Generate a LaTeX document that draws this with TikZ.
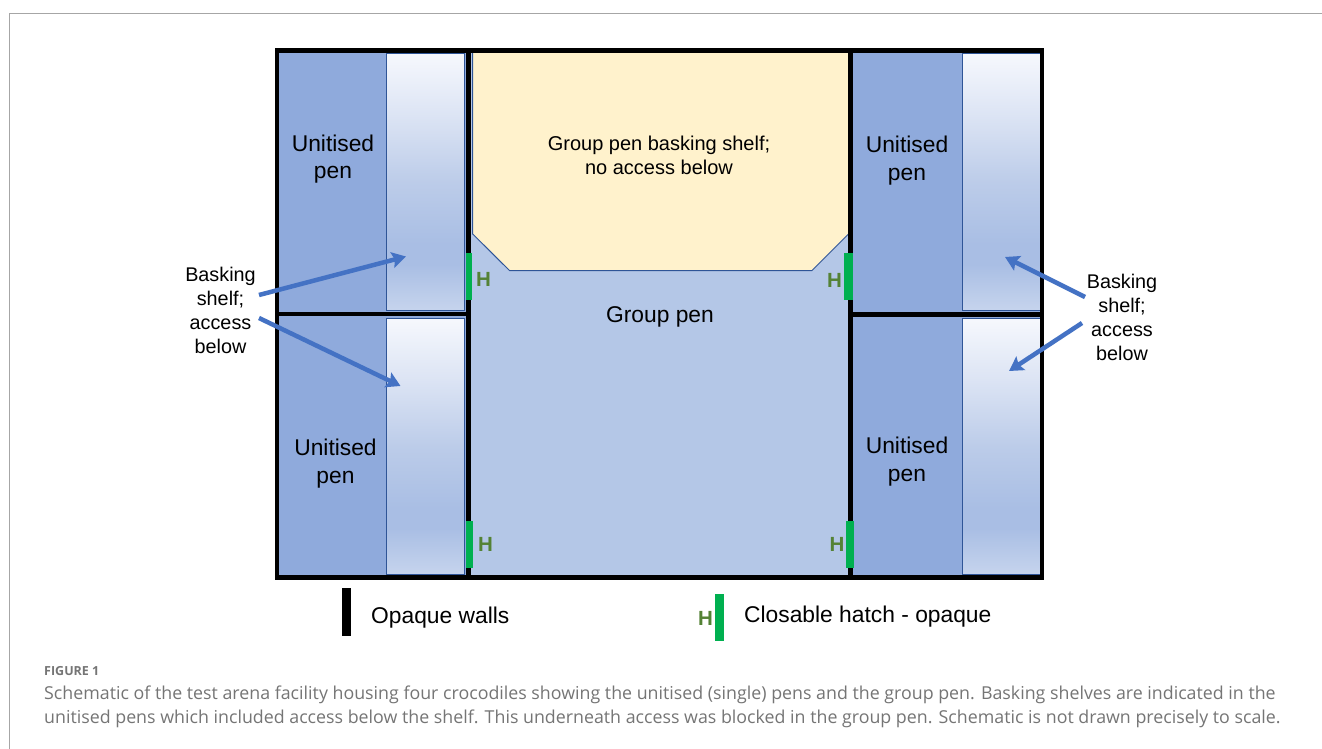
\documentclass[tikz,border=0pt]{standalone}
\usepackage{fontspec}
\setmainfont{Liberation Sans}
\newfontfamily\capfont{Open Sans}
\definecolor{penblue}{HTML}{8FAADC}
\definecolor{groupblue}{HTML}{B4C7E7}
\definecolor{shelfyellow}{HTML}{FFF2CC}
\definecolor{edgeblue}{HTML}{2F5597}
\definecolor{arrowblue}{HTML}{4472C4}
\definecolor{hatchgreen}{HTML}{00B050}
\definecolor{hgreen}{HTML}{548235}
\definecolor{capgrey}{HTML}{757575}
\definecolor{rulegrey}{HTML}{A6A6A6}
\definecolor{shA}{HTML}{F6F8FD}
\definecolor{shB}{HTML}{DCE4F4}
\definecolor{shC}{HTML}{BCCCE9}
\definecolor{shD}{HTML}{A9BEE4}
\definecolor{shE}{HTML}{C6D4ED}
\pgfdeclareverticalshading{shelfshade}{100bp}{
 color(0bp)=(shE); color(25bp)=(shE); color(34bp)=(shD); color(38bp)=(shD);
 color(50bp)=(shC); color(63bp)=(shB); color(75bp)=(shA); color(100bp)=(shA)}
\usetikzlibrary{arrows.meta}
\tikzset{
 px/.style={x=1pt,y=-1pt},
 penlabel/.style={font=\fontsize{22.8}{27.5}\selectfont,align=center,text=black,inner sep=0pt},
 annot/.style={font=\fontsize{20}{24}\selectfont,align=center,text=black,inner sep=0pt},
 hatchlabel/.style={font=\fontsize{20.5}{24}\selectfont\bfseries,text=hgreen,inner sep=0pt},
 shelfbox/.style={draw=edgeblue,line width=1pt,shading=shelfshade},
 penbox/.style={fill=penblue},
 wall/.style={fill=black},
 hatchbar/.style={fill=hatchgreen},
 pointer/.style={draw=arrowblue,line width=4.5pt,-{Stealth[length=14pt,width=16pt,inset=2.5pt]}},
 captext/.style={font=\capfont\fontsize{17.8}{24}\selectfont,text=capgrey,anchor=north west,inner sep=0pt,align=left},
}
\begin{document}
\begin{tikzpicture}[px]
\useasboundingbox (0,0) rectangle (1322,749);
\fill[white] (0,0) rectangle (1322,749);
% page frame
\draw[rulegrey,line width=1pt] (1322,13.5) -- (9.5,13.5) -- (9.5,749);
% floors
\fill[groupblue] (471,52) rectangle (849,576);
\fill[penbox] (278,52) rectangle (467,312);
\fill[penbox] (278,316) rectangle (467,576);
\fill[penbox] (852,52) rectangle (1042,312);
\fill[penbox] (852,316) rectangle (1042,576);
% shelves
\shade[shelfbox] (386.7,54) rectangle (464.7,310.5);
\shade[shelfbox] (386.7,318) rectangle (464.7,574.5);
\shade[shelfbox] (962.3,54) rectangle (1041,310.5);
\shade[shelfbox] (962.3,318) rectangle (1041,574.5);
% group shelf
\draw[edgeblue,line width=1pt,fill=shelfyellow] (472.7,51) -- (848.5,51) -- (848.5,234) -- (812,270.5) -- (509.5,270.5) -- (472.7,234) -- cycle;
% walls
\fill[wall] (466,50) rectangle (471.2,578);
\fill[wall] (848.4,50) rectangle (853.4,578);
\fill[wall] (277,311.8) rectangle (468,316.2);
\fill[wall] (851,312.3) rectangle (1042,316.7);
\draw[black,line width=4.4pt] (277,50.5) rectangle (1041.8,577.3);
% hatches
\fill[hatchbar] (465.5,252.7) rectangle (472.3,300);
\fill[hatchbar] (465.5,520.7) rectangle (473,568);
\fill[hatchbar] (844,252.7) rectangle (852.7,300);
\fill[hatchbar] (845.7,520.7) rectangle (854,568);
% legend
\fill[wall] (342,588) rectangle (351,636);
\fill[hatchbar] (715,594) rectangle (724,641);
% labels
\node[penlabel] (u1) at (333,159) {Unitised\\pen};
\node[penlabel] (u2) at (335.5,463.5) {Unitised\\pen};
\node[penlabel] (u3) at (907,160.5) {Unitised\\pen};
\node[penlabel] (u4) at (907,461.5) {Unitised\\pen};
\node[annot] (shelftext) at (659,155.5) {Group pen basking shelf;\\no access below};
\node[penlabel] (grouptext) at (660,316.5) {Group pen};
\node[annot,font=\fontsize{19.8}{24}\selectfont] (leftnote) at (220.5,310.5) {Basking\\shelf;\\access\\below};
\node[annot,font=\fontsize{19.8}{24}\selectfont] (rightnote) at (1122,317.5) {Basking\\shelf;\\access\\below};
\node[hatchlabel] (h1) at (483.5,279.5) {H};
\node[hatchlabel] (h2) at (485.5,544.5) {H};
\node[hatchlabel] (h3) at (834.5,280) {H};
\node[hatchlabel] (h4) at (837,544.5) {H};
\node[hatchlabel] (h5) at (705.5,618.5) {H};
\node[penlabel,anchor=west] (legA) at (371,618) {Opaque walls};
\node[penlabel,anchor=west] (legB) at (744,616.5) {Closable hatch - opaque};
% pointers
\coordinate (la) at (259,295);
\coordinate (lb) at (259,318);
\coordinate (ra) at (1085,297);
\coordinate (rb) at (1082,323);
\coordinate (ta) at (406,256.5);
\coordinate (tb) at (400.5,386);
\coordinate (tc) at (1005,257);
\coordinate (td) at (1009,371);
\draw[pointer] (la) -- (ta);
\draw[pointer] (lb) -- (tb);
\draw[pointer] (ra) -- (tc);
\draw[pointer] (rb) -- (td);
% caption
\node[font=\capfont\bfseries\fontsize{12.5}{16}\selectfont,text=capgrey,anchor=west,inner sep=0pt] (figlabel) at (44,671) {FIGURE 1};
\node[captext] (caption) at (44,686) {Schematic of the test arena facility housing four crocodiles showing the unitised (single) pens and the group pen. Basking shelves are indicated in the\\unitised pens which included access below the shelf. This underneath access was blocked in the group pen. Schematic is not drawn precisely to scale.};
\end{tikzpicture}
\end{document}
